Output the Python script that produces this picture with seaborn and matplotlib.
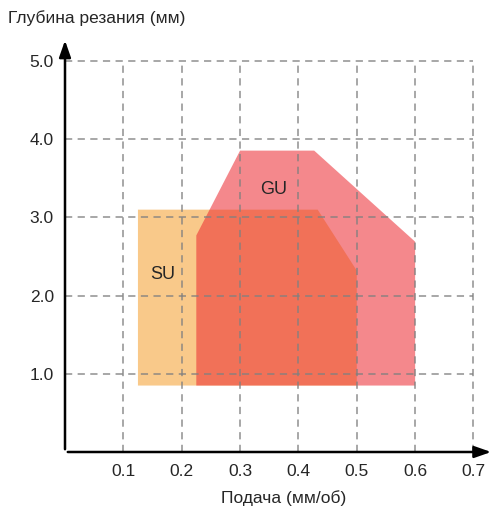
import matplotlib
matplotlib.use("Agg")
import matplotlib.pyplot as plt
import seaborn as sns

# data
x_ticks = [0.1, 0.2, 0.3, 0.4, 0.5, 0.6, 0.7]
y_ticks = [1.0, 2.0, 3.0, 4.0, 5.0]

su_x = [0.125, 0.125, 0.433, 0.5, 0.5]
su_y = [0.85, 3.1, 3.1, 2.32, 0.85]
gu_x = [0.225, 0.225, 0.3, 0.427, 0.6, 0.6]
gu_y = [0.85, 2.77, 3.855, 3.855, 2.69, 0.85]

sns.set_style("white")
plt.rcParams['font.family'] = ['Liberation Sans', 'DejaVu Sans']

fig = plt.figure(figsize=(4.93, 5.08), dpi=100)
ax = fig.add_axes([65 / 493, 56 / 508, 426 / 493, 412 / 508])
ax.set_xlim(0, 0.73)
ax.set_ylim(0, 5.27)

# regions
ax.fill(su_x, su_y, color="#F9C98A", lw=0, zorder=1)
ax.fill(gu_x, gu_y, color=(236 / 255, 44 / 255, 50 / 255), alpha=0.56, lw=0, zorder=2)
ax.text(0.168, 2.27, "SU", ha="center", va="center", fontsize=13, zorder=5)
ax.text(0.357, 3.36, "GU", ha="center", va="center", fontsize=13, zorder=5)

# dashed grid, limited to the tick range
ax.vlines(x_ticks, 0, 5.0, colors="#808080", linestyles=(0, (4, 3)), lw=1.3, alpha=0.75, zorder=3)
ax.hlines(y_ticks, 0, 0.7, colors="#808080", linestyles=(0, (4, 3)), lw=1.3, alpha=0.75, zorder=3)

# axes with arrows
for s in ax.spines.values():
    s.set_visible(False)
ax.annotate("", xy=(0.735, 0), xytext=(0, 0),
            arrowprops=dict(arrowstyle="-|>,head_width=0.35,head_length=1.0", color="black", lw=1.8),
            annotation_clip=False, zorder=4)
ax.annotate("", xy=(0, 5.3), xytext=(0, 0),
            arrowprops=dict(arrowstyle="-|>,head_width=0.35,head_length=1.0", color="black", lw=1.8),
            annotation_clip=False, zorder=4)

ax.set_xticks(x_ticks)
ax.set_xticklabels([f"{v:.1f}" for v in x_ticks])
ax.set_yticks(y_ticks)
ax.set_yticklabels([f"{v:.1f}" for v in y_ticks])
ax.tick_params(axis="x", length=0, pad=9, labelsize=12.5)
ax.tick_params(axis="y", length=0, pad=8, labelsize=12.5)

fig.text(0.016, 0.965, "Глубина резания (мм)", ha="left", va="center", fontsize=12.5)
fig.text(0.575, 0.02, "Подача (мм/об)", ha="center", va="center", fontsize=12.5)

fig.savefig("out.png", dpi=100)
